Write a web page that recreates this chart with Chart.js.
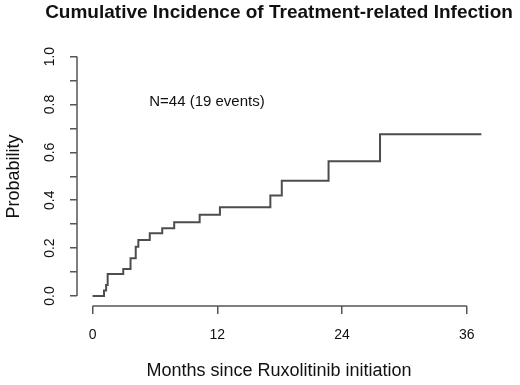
<!DOCTYPE html>
<html>
<head>
<meta charset="utf-8">
<script src="https://cdn.jsdelivr.net/npm/chart.js@4.4.1/dist/chart.umd.min.js"></script>
<style>
  html, body { margin: 0; padding: 0; background: #fff; }
  #wrap { width: 520px; height: 385px; }
</style>
</head>
<body>
<div id="wrap"><canvas id="cif"></canvas></div>
<script>
// step times (months) and cumulative incidence
const months = [0, 1.1, 1.3, 1.45, 2.95, 3.65, 4.15, 4.4, 5.5, 6.7, 7.85, 10.3, 12.25, 17.1, 18.2, 22.7, 27.65, 37.4]
const incidence = [0, 0.023, 0.046, 0.092, 0.113, 0.158, 0.206, 0.234, 0.262, 0.283, 0.308, 0.339, 0.371, 0.42, 0.481, 0.563, 0.675, 0.675]

const xTicks = [0, 12, 24, 36]
const yTicks = [0, 0.1, 0.2, 0.3, 0.4, 0.5, 0.6, 0.7, 0.8, 0.9, 1.0]
const yTickLabels = ["0.0", "", "0.2", "", "0.4", "", "0.6", "", "0.8", "", "1.0"]

const FONT = "'Liberation Sans', Arial, sans-serif"
const INK = "#111"
const AXIS = "#555"

// R-style axes: lines only from first to last tick, plus title, x label and N note
const rAxes = {
  id: "rAxes",
  afterDraw(chart) {
    const { ctx, chartArea, scales } = chart
    const x = scales.x, y = scales.y
    ctx.save()
    ctx.strokeStyle = AXIS
    ctx.lineWidth = 1.5
    ctx.beginPath()
    ctx.moveTo(x.getPixelForValue(xTicks[0]), chartArea.bottom)
    ctx.lineTo(x.getPixelForValue(xTicks[xTicks.length - 1]), chartArea.bottom)
    ctx.moveTo(chartArea.left, y.getPixelForValue(yTicks[0]))
    ctx.lineTo(chartArea.left, y.getPixelForValue(yTicks[yTicks.length - 1]))
    ctx.stroke()

    ctx.fillStyle = INK
    ctx.textAlign = "center"
    ctx.textBaseline = "middle"
    ctx.font = "15px " + FONT
    ctx.fillText("N=44 (19 events)", x.getPixelForValue(11), y.getPixelForValue(0.81))

    ctx.font = "bold 19px " + FONT
    ctx.fillText("Cumulative Incidence of Treatment-related Infection", 279, 13)

    ctx.font = "18px " + FONT
    ctx.fillText("Months since Ruxolitinib initiation", 279, 371)
    ctx.restore()
  },
}

const chart = new Chart(document.getElementById("cif"), {
  type: "line",
  data: {
    datasets: [
      {
        data: months.map((m, i) => ({ x: m, y: incidence[i] })),
        stepped: true,
        borderColor: "#4d4d4d",
        borderWidth: 2,
        pointRadius: 0,
        fill: false,
      },
    ],
  },
  options: {
    responsive: true,
    maintainAspectRatio: false,
    animation: false,
    layout: { padding: { top: 47, right: 22, bottom: 0, left: 0 } },
    plugins: {
      legend: { display: false },
      tooltip: { enabled: false },
    },
    scales: {
      x: {
        type: "linear",
        min: -1.5,
        max: 39,
        afterBuildTicks: (s) => { s.ticks = xTicks.map((v) => ({ value: v })) },
        afterFit: (s) => { s.height = 79 },
        border: { display: false },
        grid: { drawOnChartArea: false, drawTicks: true, tickLength: 8, color: AXIS, lineWidth: 1.5 },
        ticks: { color: INK, font: { family: FONT, size: 14 }, padding: 13, maxRotation: 0, autoSkip: false },
      },
      y: {
        type: "linear",
        min: -0.042,
        max: 1.04,
        afterBuildTicks: (s) => { s.ticks = yTicks.map((v) => ({ value: v })) },
        afterFit: (s) => { s.width = 77 },
        border: { display: false },
        grid: { drawOnChartArea: false, drawTicks: true, tickLength: 7, color: AXIS, lineWidth: 1.5 },
        ticks: {
          color: INK,
          font: { family: FONT, size: 14 },
          padding: 10,
          minRotation: 90,
          maxRotation: 90,
          crossAlign: "center",
          autoSkip: false,
          callback: (v, i) => yTickLabels[i],
        },
        title: {
          display: true,
          text: "Probability",
          color: INK,
          font: { family: FONT, size: 18 },
          padding: { top: 3, bottom: 0 },
        },
      },
    },
  },
  plugins: [rAxes],
})
</script>
</body>
</html>
